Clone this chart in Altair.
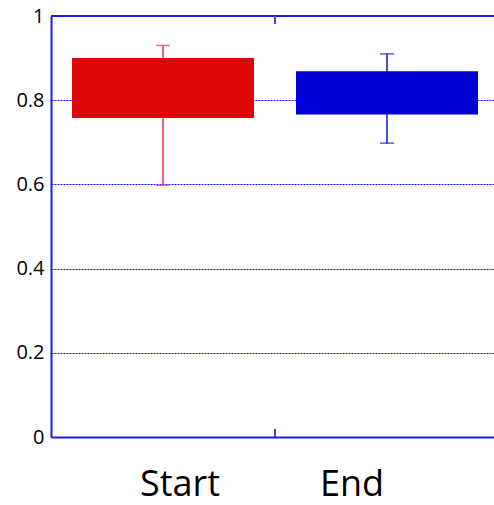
import altair as alt
import pandas as pd

categories = ["Start", "End"]
box_low = [0.758, 0.766]
box_high = [0.900, 0.869]
whisker_low = [0.598, 0.698]
whisker_high = [0.930, 0.910]
box_colors = ["#DD0707", "#0000D4"]
whisker_colors = ["#E43B3B", "#1414C4"]
y_ticks = [0, 0.2, 0.4, 0.6, 0.8, 1]

AXIS_BLUE = "#1A1AE6"
GRID_BLUE = "#1010FF"

df = pd.DataFrame({
    "cat": categories,
    "q1": box_low,
    "q3": box_high,
    "lo": whisker_low,
    "hi": whisker_high,
    "box_color": box_colors,
    "whisker_color": whisker_colors,
})

xscale = alt.Scale(domain=categories, range=[0, 448], paddingInner=0, paddingOuter=0)
yscale = alt.Scale(domain=[0, 1], nice=False, zero=True)

x_axis = alt.Axis(
    title=None, ticks=False, domain=True, domainColor=AXIS_BLUE, domainWidth=2,
    labelFont="Open Sans", labelFontSize=36, labelColor="black", labelPadding=30,
    labelAngle=0,
    labelOffset={"condition": {"test": "datum.value == 'Start'", "value": 17}, "value": -35},
    grid=False,
)
y_axis = alt.Axis(
    title=None, values=y_ticks, format="~g", ticks=False,
    domain=True, domainColor=AXIS_BLUE, domainWidth=2,
    grid=True, gridColor=GRID_BLUE, gridDash=[2, 1], gridWidth=1, gridOpacity=1,
    labelFont="Open Sans", labelFontSize=20, labelColor="black", labelPadding=7,
    zindex=0,
)

whisker = alt.Chart(df).mark_rule(strokeWidth=1.5).encode(
    x=alt.X("cat:N", scale=xscale, axis=x_axis, sort=categories),
    y=alt.Y("lo:Q", scale=yscale, axis=y_axis),
    y2="hi:Q",
    color=alt.Color("whisker_color:N", scale=None, legend=None),
)

box = alt.Chart(df).mark_bar(size=182, opacity=1).encode(
    x=alt.X("cat:N", scale=xscale, sort=categories),
    y=alt.Y("q1:Q", scale=yscale, title=None),
    y2="q3:Q",
    color=alt.Color("box_color:N", scale=None, legend=None),
)

cap_hi = alt.Chart(df).mark_tick(size=14, thickness=1.5, orient="horizontal").encode(
    x=alt.X("cat:N", scale=xscale, sort=categories),
    y=alt.Y("hi:Q", scale=yscale, title=None),
    color=alt.Color("whisker_color:N", scale=None, legend=None),
)
cap_lo = alt.Chart(df).mark_tick(size=14, thickness=1.5, orient="horizontal").encode(
    x=alt.X("cat:N", scale=xscale, sort=categories),
    y=alt.Y("lo:Q", scale=yscale, title=None),
    color=alt.Color("whisker_color:N", scale=None, legend=None),
)

top_border = alt.Chart(df).mark_rule(color=AXIS_BLUE, strokeWidth=2).encode(
    y=alt.datum(1),
)

mid = pd.DataFrame({"cat": [categories[1]]})
tick_bottom = alt.Chart(mid).mark_rule(color="#4A4AD8", strokeWidth=2).encode(
    x=alt.X("cat:N", scale=xscale, bandPosition=0, sort=categories),
    y=alt.value(421), y2=alt.value(413),
)
tick_top = alt.Chart(mid).mark_rule(color="#4A4AD8", strokeWidth=2).encode(
    x=alt.X("cat:N", scale=xscale, bandPosition=0, sort=categories),
    y=alt.value(0), y2=alt.value(8),
)

chart = alt.layer(whisker, box, cap_hi, cap_lo, top_border, tick_bottom, tick_top).properties(
    width=443, height=421,
    padding={"left": 51, "top": 16, "right": 0, "bottom": 68},
    autosize=alt.AutoSizeParams(type="none"),
    background="white",
).configure_view(stroke=None)

chart.save("out.html", embed_options={"renderer": "svg", "actions": False})
